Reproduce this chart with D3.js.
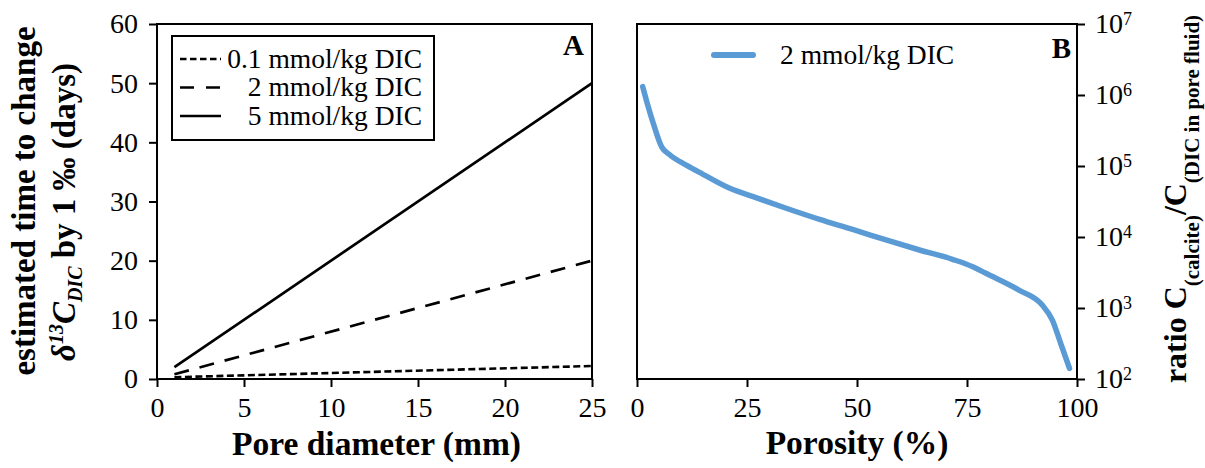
<!DOCTYPE html>
<html><head><meta charset="utf-8">
<script src="https://cdn.jsdelivr.net/npm/d3@7"></script>
<style>
html,body{margin:0;padding:0;background:#fff;}
svg{display:block;font-family:"Liberation Serif","Times New Roman",serif;}
</style></head><body>
<svg id="chart" width="1205" height="468"></svg>
<script>
// ---------- data ----------
const poreDiameter = [1, 25];
const time01 = [0.3, 2.2];
const time2 = [0.8, 20];
const time5 = [2, 50];
const legendLabelsA = ["0.1 mmol/kg DIC", "2 mmol/kg DIC", "5 mmol/kg DIC"];
const xTicksA = [0, 5, 10, 15, 20, 25];
const yTicksA = [0, 10, 20, 30, 40, 50, 60];

const porosity = [1.3, 2.5, 3.7, 5.6, 7.5, 11.3, 15.0, 21.1, 26.4, 33.9, 41.5, 49.0, 56.6, 64.2, 71.7, 76.3, 79.3, 86.8, 92.1, 94.4, 96.3, 98.3];
const ratio = [1.31e6, 7.0e5, 3.98e5, 1.86e5, 1.43e5, 1.02e5, 7.64e4, 4.85e4, 3.7e4, 2.54e4, 1.77e4, 1.28e4, 9.08e3, 6.56e3, 4.85e3, 3.82e3, 3.08e3, 1.79e3, 1.10e3, 676, 316, 141];
const legendLabelB = "2 mmol/kg DIC";
const xTicksB = [0, 25, 50, 75, 100];
const yTicksB = [1e2, 1e3, 1e4, 1e5, 1e6, 1e7];

// ---------- layout ----------
const svg = d3.select("#chart");
const A = {l: 157, r: 592, t: 24, b: 379};
const B = {l: 637, r: 1077, t: 24, b: 379};
const tickFont = 28;
const blue = "#5B9BD5";

const xA = d3.scaleLinear().domain([0, 25]).range([A.l, A.r]);
const yA = d3.scaleLinear().domain([0, 60]).range([A.b, A.t]);
const xB = d3.scaleLinear().domain([0, 100]).range([B.l, B.r]);
const yB = d3.scaleLog().domain([1e2, 1e7]).range([B.b, B.t]);

function styleAxis(g) {
  g.select(".domain").remove();
  g.selectAll(".tick line").attr("stroke", "#000").attr("stroke-width", 2);
  g.selectAll(".tick text").attr("fill", "#000").style("font-size", tickFont + "px")
    .style("font-family", '"Liberation Serif","Times New Roman",serif');
}

// Panel A axes
svg.append("g").attr("transform", `translate(0,${A.b})`)
  .call(d3.axisBottom(xA).tickValues(xTicksA).tickSize(8).tickPadding(10).tickSizeOuter(0))
  .call(styleAxis);
svg.append("g").attr("transform", `translate(${A.l},0)`)
  .call(d3.axisLeft(yA).tickValues(yTicksA).tickSize(8).tickPadding(11).tickSizeOuter(0))
  .call(styleAxis);

// Panel B axes
svg.append("g").attr("transform", `translate(0,${B.b})`)
  .call(d3.axisBottom(xB).tickValues(xTicksB).tickSize(8).tickPadding(10).tickSizeOuter(0))
  .call(styleAxis);
const rAxis = svg.append("g").attr("transform", `translate(${B.r},0)`)
  .call(d3.axisRight(yB).tickValues(yTicksB).tickSize(8).tickPadding(10).tickSizeOuter(0).tickFormat(() => ""))
  .call(styleAxis);
rAxis.selectAll(".tick text").each(function(d) {
  const t = d3.select(this);
  t.append("tspan").text("10");
  t.append("tspan").text(Math.round(Math.log10(d))).attr("dy", "-0.45em").style("font-size", "18px");
});

// Frames
[A, B].forEach(p => {
  svg.append("rect").attr("x", p.l).attr("y", p.t).attr("width", p.r - p.l).attr("height", p.b - p.t)
    .attr("fill", "none").attr("stroke", "#000").attr("stroke-width", 2);
});

// Panel A lines
const lineA = d3.line().x(d => xA(d[0])).y(d => yA(d[1]));
const seriesA = [
  {vals: time01, dash: "7,3.5", w: 2.6},
  {vals: time2, dash: "15,11", w: 2.7},
  {vals: time5, dash: null, w: 2.7}
];
seriesA.forEach(s => {
  svg.append("path").datum(poreDiameter.map((x, i) => [x, s.vals[i]]))
    .attr("d", lineA).attr("fill", "none").attr("stroke", "#000")
    .attr("stroke-width", s.w).attr("stroke-dasharray", s.dash);
});

// Legend A
svg.append("rect").attr("x", 172).attr("y", 36).attr("width", 262).attr("height", 104)
  .attr("fill", "#fff").attr("stroke", "#000").attr("stroke-width", 2);
legendLabelsA.forEach((lab, i) => {
  const y = 58 + i * 28.5;
  svg.append("line").attr("x1", 180).attr("x2", 221).attr("y1", y + 1).attr("y2", y + 1)
    .attr("stroke", "#000").attr("stroke-width", seriesA[i].w)
    .attr("stroke-dasharray", i === 0 ? "6.5,3.5" : (i === 1 ? "14,12" : null));
  svg.append("text").attr("x", 422).attr("y", y).attr("dy", "0.35em")
    .attr("text-anchor", "end").style("font-size", "27.5px").text(lab);
});

svg.append("text").attr("x", 584).attr("y", 55).attr("text-anchor", "end")
  .style("font-size", "29px").style("font-weight", "bold").text("A");
svg.append("text").attr("x", 1071).attr("y", 58).attr("text-anchor", "end")
  .style("font-size", "29px").style("font-weight", "bold").text("B");

// Panel B curve
const lineB = d3.line().x(d => xB(d[0])).y(d => yB(d[1])).curve(d3.curveMonotoneX);
svg.append("path").datum(porosity.map((p, i) => [p, ratio[i]]))
  .attr("d", lineB).attr("fill", "none").attr("stroke", blue).attr("stroke-width", 5.5)
  .attr("stroke-linecap", "round").attr("stroke-linejoin", "round");

// Legend B
svg.append("line").attr("x1", 714).attr("x2", 753).attr("y1", 55).attr("y2", 55)
  .attr("stroke", blue).attr("stroke-width", 6).attr("stroke-linecap", "round");
svg.append("text").attr("x", 780).attr("y", 54).attr("dy", "0.35em")
  .style("font-size", "27.5px").text(legendLabelB);

// Axis titles
svg.append("text").attr("x", (A.l + A.r) / 2 + 2).attr("y", 455).attr("text-anchor", "middle")
  .style("font-size", "33.5px").style("font-weight", "bold").text("Pore diameter (mm)");
svg.append("text").attr("x", (B.l + B.r) / 2).attr("y", 454).attr("text-anchor", "middle")
  .style("font-size", "33.5px").style("font-weight", "bold").text("Porosity (%)");

// Left title, two lines
svg.append("text").attr("transform", "translate(35,201) rotate(-90)").attr("text-anchor", "middle")
  .style("font-size", "33px").style("font-weight", "bold").text("estimated time to change");
const l2 = svg.append("text").attr("transform", "translate(75,212) rotate(-90)").attr("text-anchor", "middle")
  .style("font-size", "33px").style("font-weight", "bold");
l2.append("tspan").style("font-style", "italic").text("δ");
l2.append("tspan").style("font-style", "italic").style("font-size", "20px").attr("dy", -12).text("13");
l2.append("tspan").style("font-style", "italic").attr("dy", 12).text("C");
l2.append("tspan").style("font-style", "italic").style("font-size", "20px").attr("dy", 7).text("DIC");
l2.append("tspan").attr("dy", -7).text(" by 1 ‰ (days)");

// Right title
const rt = svg.append("text").attr("transform", "translate(1186,199) rotate(-90)").attr("text-anchor", "middle")
  .style("font-size", "32px").style("font-weight", "bold");
rt.append("tspan").text("ratio C");
rt.append("tspan").style("font-size", "21px").attr("dy", 13).text("(calcite)");
rt.append("tspan").attr("dy", -13).text("/C");
rt.append("tspan").style("font-size", "21px").attr("dy", 13).text("(DIC in pore fluid)");
</script>
</body></html>
